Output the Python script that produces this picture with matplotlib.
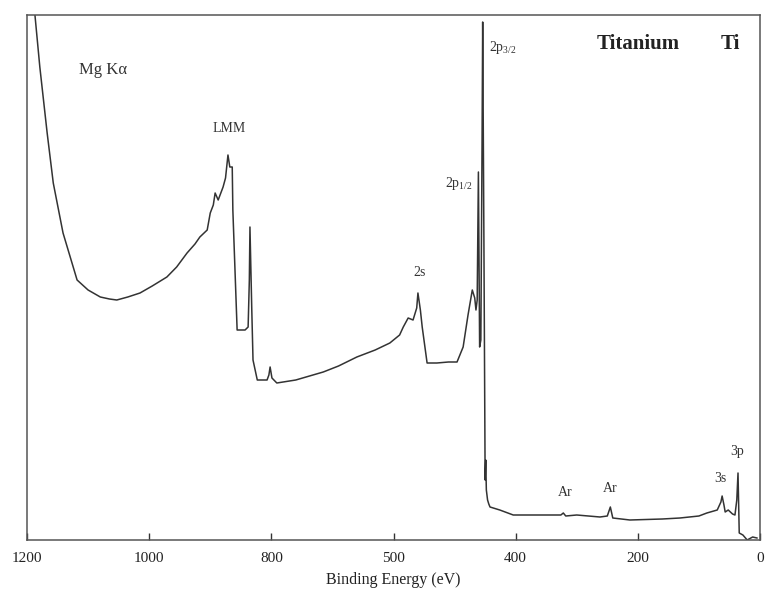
import matplotlib
matplotlib.use("Agg")
import matplotlib.pyplot as plt

plt.rcParams['font.family'] = ['Liberation Serif', 'DejaVu Serif']
plt.rcParams['mathtext.fontset'] = 'custom'
plt.rcParams['mathtext.rm'] = 'Liberation Serif'
plt.rcParams['mathtext.it'] = 'Liberation Serif:italic'

# Binding energy (eV) and intensity (arbitrary units)
energy = [1195, 1187, 1179, 1167, 1157, 1141, 1118, 1100, 1080, 1065, 1053, 1035, 1015, 995, 971,
          955, 938, 925, 917, 905, 900, 895, 892, 887, 879, 875, 871, 868, 864, 863, 856,
          843, 838, 836, 835, 832, 830, 823, 807, 804, 802, 799, 791, 760, 715, 690, 660,
          630, 606, 590, 584, 576, 568, 562, 560, 556, 553, 545, 529, 510, 496, 486,
          478, 471, 467, 465, 463, 461, 459, 457, 455, 454, 452, 450, 449, 448, 446, 444,
          442, 426, 404, 340, 326, 322, 318, 300, 262, 250, 245, 241, 213, 160, 131,
          100, 87, 70, 64, 62, 59, 57, 52, 45, 41, 38, 36, 34, 28, 21, 12, 5]
intensity = [560, 525, 473, 407, 357, 307, 260, 250, 243, 241, 240, 243, 247, 254, 263,
             273, 287, 296, 303, 310, 327, 335, 347, 340, 353, 362, 385, 373, 373, 330, 210,
             210, 213, 260, 313, 230, 180, 160, 160, 165, 173, 162, 157, 160, 168, 174, 183,
             190, 197, 205, 213, 222, 220, 232, 247, 230, 213, 177, 177, 178, 178, 193,
             225, 250, 242, 230, 240, 368, 193, 200, 400, 518, 300, 60, 80, 50, 40, 36,
             33, 30, 25, 25, 25, 27, 24, 25, 23, 24, 33, 22, 20, 21, 22,
             24, 27, 30, 38, 44, 35, 28, 30, 26, 25, 40, 67, 7, 5, 0, 3, 2]

xticks = [1200, 1000, 800, 600, 400, 200, 0]
xtick_labels = ["1200", "1000", "800", "500", "400", "200", "0"]

# peak labels (energy, intensity, text)
label_x = [1076, 869, 557, 493, 421, 319, 245, 65, 37]
label_y = [470, 412, 267, 357, 492, 48, 52, 61, 88]
label_txt = ["Mg Kα", "LMM", "2s", r"2p$_{\mathrm{1/2}}$", r"2p$_{\mathrm{3/2}}$",
             "Ar", "Ar", "3s", "3p"]

fig = plt.figure(figsize=(7.65, 5.94), dpi=100)
ax = fig.add_axes([27/765, 54/594, 733/765, 525/594])
line_col = '#333333'
ax.plot(energy, intensity, color=line_col, lw=1.1)
ax.set_xlim(1200, 0)
ax.set_ylim(0, 525)
ax.set_yticks([])
ax.set_xticks(xticks)
ax.set_xticklabels(xtick_labels)
ax.tick_params(axis='x', direction='in', length=5, width=1, color=line_col,
               labelsize=11, pad=9, labelcolor='#222222')
for s in ax.spines.values():
    s.set_color('#555555')
    s.set_linewidth(1.1)
ax.set_xlabel("Binding Energy (eV)", fontsize=11.5, color='#222222', labelpad=5)

for x, y, t in zip(label_x, label_y, label_txt):
    fs = 12 if t.startswith("Mg") else 10
    ax.text(x, y, t, ha='center', va='center', fontsize=fs, color='#333333')

ax.text(200, 496, "Titanium", ha='center', va='center', fontsize=15, fontweight='bold', color='#222222')
ax.text(49, 496, "Ti", ha='center', va='center', fontsize=15, fontweight='bold', color='#222222')

fig.savefig("out.png", dpi=100)
